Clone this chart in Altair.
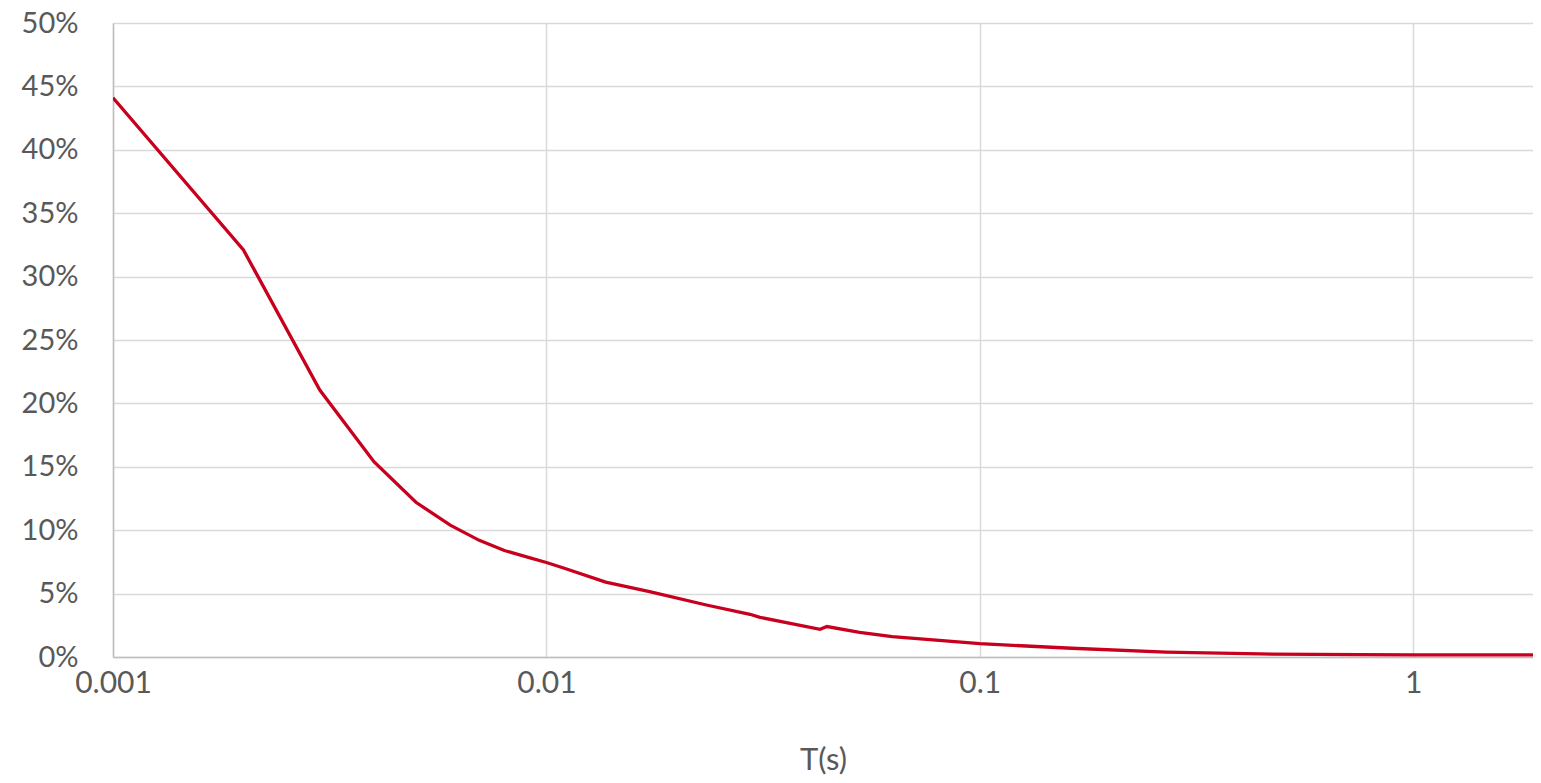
import altair as alt
import pandas as pd

# Period T (s) and spectral value (fraction)
T = [0.001, 0.002, 0.003, 0.004, 0.005, 0.006, 0.007, 0.008, 0.009, 0.01,
     0.011, 0.0137, 0.0173, 0.0234, 0.0295, 0.0311, 0.0428, 0.0444, 0.0528,
     0.0628, 0.1, 0.163, 0.269, 0.443, 0.75, 1.0, 2.0]
V = [0.441, 0.321, 0.2105, 0.154, 0.122, 0.104, 0.092, 0.084, 0.079, 0.0745,
     0.070, 0.059, 0.0515, 0.041, 0.0337, 0.0313, 0.0218, 0.024, 0.0195,
     0.016, 0.0105, 0.0069, 0.0039, 0.0024, 0.0018, 0.0017, 0.0016]

x_ticks = [0.001, 0.01, 0.1, 1]
y_ticks = [0, 0.05, 0.10, 0.15, 0.20, 0.25, 0.30, 0.35, 0.40, 0.45, 0.50]

df = pd.DataFrame({"T": T, "V": V})

FONT = "Lato"
TXT = "#595959"

chart = alt.Chart(df).mark_line(color="#C8001E", strokeWidth=3.3, clip=True).encode(
    x=alt.X("T:Q",
            scale=alt.Scale(type="log", domain=[0.001, 1.89], nice=False),
            axis=alt.Axis(values=x_ticks, labelExpr="format(datum.value, '~g')",
                          title="T(s)", ticks=False, grid=True,
                          gridColor="#d9d9d9", gridWidth=1.5,
                          domainColor="#bfbfbf", domainWidth=1.5,
                          labelFont=FONT, labelFontSize=30, labelColor=TXT,
                          labelBaseline="middle", labelPadding=26,
                          labelFlush=False,
                          titleFont=FONT, titleFontSize=31, titleColor=TXT,
                          titleFontWeight="normal", titleBaseline="middle",
                          titleY=103)),
    y=alt.Y("V:Q",
            scale=alt.Scale(domain=[0, 0.5], nice=False),
            axis=alt.Axis(values=y_ticks, format=".0%", title=None,
                          ticks=False, grid=True,
                          gridColor="#d9d9d9", gridWidth=1.5,
                          domainColor="#bfbfbf", domainWidth=1.5,
                          labelFont=FONT, labelFontSize=29, labelColor=TXT,
                          labelPadding=35, labelFlush=False)),
).properties(
    width=1420, height=634,
    autosize=alt.AutoSizeParams(type="none"),
    padding={"left": 105, "top": 15, "right": 0, "bottom": 120},
).configure_view(stroke=None)

chart.save("out.html", embed_options={"renderer": "svg", "actions": False})
